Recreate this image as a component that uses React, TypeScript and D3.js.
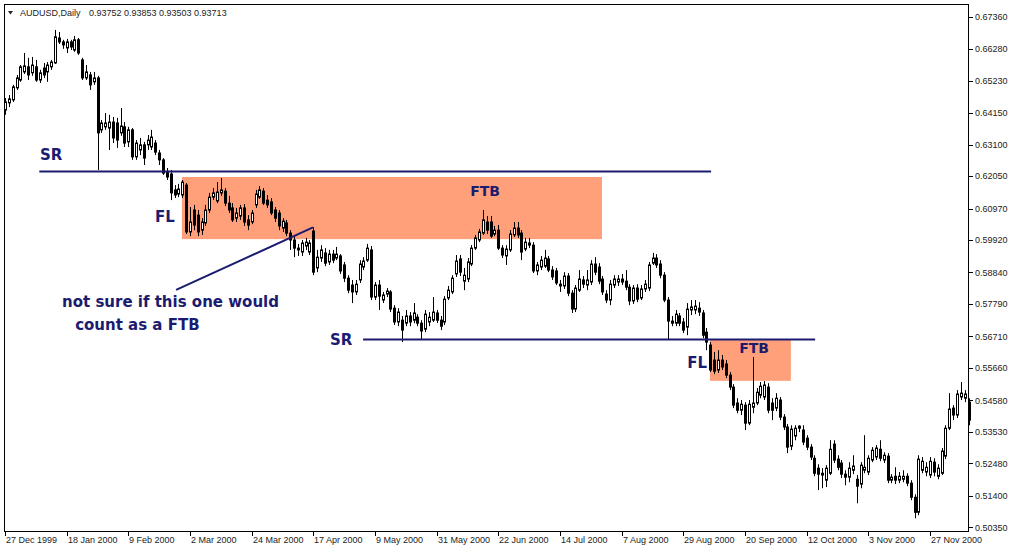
import React from "react";
import * as d3 from "d3";

const symbolTitle = "AUDUSD,Daily";
const quoteLine = "0.93752 0.93853 0.93503 0.93713";

// Daily bars, 27 Dec 1999 .. early Dec 2000 (weekdays)
const opens = [
  0.6425, 0.6449, 0.6459, 0.6499, 0.6525, 0.6552, 0.6569, 0.6549, 0.6569, 0.6525,
  0.6565, 0.6552, 0.6569, 0.6582, 0.6665, 0.6652, 0.6632, 0.6652, 0.6625, 0.6659,
  0.6592, 0.6532, 0.6542, 0.6519, 0.6532, 0.6359, 0.6369, 0.6365, 0.6385, 0.6382,
  0.6349, 0.6369, 0.6319, 0.6359, 0.6269, 0.6292, 0.6309, 0.6309, 0.6302, 0.6315,
  0.6282, 0.6259, 0.6219, 0.6212, 0.6159, 0.6145, 0.6142, 0.6175, 0.6019, 0.6092,
  0.6075, 0.6025, 0.6049, 0.6092, 0.6135, 0.6122, 0.6149, 0.6155, 0.6115, 0.6099,
  0.6065, 0.6072, 0.6099, 0.6059, 0.6052, 0.6109, 0.6135, 0.6155, 0.6125, 0.6119,
  0.6092, 0.6082, 0.6032, 0.6049, 0.6015, 0.5992, 0.5965, 0.5952, 0.5972, 0.5952,
  0.6022, 0.5899, 0.5932, 0.5949, 0.5919, 0.5945, 0.5932, 0.5939, 0.5909, 0.5865,
  0.5842, 0.5819, 0.5859, 0.5902, 0.5925, 0.5959, 0.5802, 0.5842, 0.5792, 0.5812,
  0.5819, 0.5765, 0.5719, 0.5725, 0.5715, 0.5739, 0.5725, 0.5735, 0.5715, 0.5695,
  0.5719, 0.5725, 0.5749, 0.5725, 0.5719, 0.5799, 0.5819, 0.5879, 0.5929, 0.5855,
  0.5862, 0.5912, 0.5965, 0.5992, 0.6015, 0.6052, 0.6052, 0.6012, 0.6025, 0.5965,
  0.5939, 0.5959, 0.6009, 0.6032, 0.6015, 0.5962, 0.5982, 0.5975, 0.5889, 0.5902,
  0.5905, 0.5929, 0.5892, 0.5889, 0.5845, 0.5839, 0.5872, 0.5815, 0.5762, 0.5825,
  0.5859, 0.5842, 0.5852, 0.5912, 0.5902, 0.5862, 0.5812, 0.5792, 0.5842, 0.5852,
  0.5862, 0.5855, 0.5835, 0.5789, 0.5832, 0.5799, 0.5829, 0.5832, 0.5915, 0.5932,
  0.5912, 0.5875, 0.5792, 0.5722, 0.5715, 0.5739, 0.5719, 0.5702, 0.5759, 0.5759,
  0.5765, 0.5749, 0.5685, 0.5642, 0.5592, 0.5559, 0.5592, 0.5579, 0.5542, 0.5502,
  0.5449, 0.5425, 0.5442, 0.5382, 0.5435, 0.5449, 0.5475, 0.5469, 0.5502, 0.5449,
  0.5432, 0.5459, 0.5402, 0.5369, 0.5305, 0.5339, 0.5365, 0.5359, 0.5332, 0.5302,
  0.5265, 0.5232, 0.5215, 0.5192, 0.5215, 0.5312, 0.5262, 0.5249, 0.5212, 0.5202,
  0.5225, 0.5195, 0.5179, 0.5225, 0.5219, 0.5259, 0.5269, 0.5295, 0.5259, 0.5272,
  0.5192, 0.5205, 0.5192, 0.5195, 0.5205, 0.5182, 0.5135, 0.5085, 0.5225, 0.5219,
  0.5209, 0.5252, 0.5205, 0.5215, 0.5272, 0.5365, 0.5432, 0.5409, 0.5469, 0.5465,
  0.5452,
];

const highs = [
  0.6465, 0.6475, 0.6509, 0.6542, 0.6575, 0.6615, 0.6599, 0.6602, 0.6592, 0.6559,
  0.6582, 0.6585, 0.6592, 0.6692, 0.6685, 0.6659, 0.6662, 0.6659, 0.6672, 0.6665,
  0.6599, 0.6575, 0.6552, 0.6552, 0.6539, 0.6392, 0.6415, 0.6409, 0.6402, 0.6399,
  0.6432, 0.6385, 0.6369, 0.6365, 0.6325, 0.6332, 0.6319, 0.6342, 0.6359, 0.6325,
  0.6292, 0.6265, 0.6232, 0.6225, 0.6175, 0.6179, 0.6192, 0.6182, 0.6102, 0.6109,
  0.6092, 0.6065, 0.6109, 0.6149, 0.6165, 0.6185, 0.6199, 0.6165, 0.6139, 0.6115,
  0.6099, 0.6109, 0.6112, 0.6075, 0.6092, 0.6159, 0.6172, 0.6165, 0.6142, 0.6132,
  0.6102, 0.6092, 0.6065, 0.6059, 0.6025, 0.6005, 0.5979, 0.5992, 0.5999, 0.5992,
  0.6035, 0.5959, 0.5975, 0.5965, 0.5959, 0.5959, 0.5969, 0.5945, 0.5919, 0.5875,
  0.5859, 0.5859, 0.5925, 0.5935, 0.5979, 0.5972, 0.5852, 0.5859, 0.5819, 0.5832,
  0.5825, 0.5775, 0.5765, 0.5739, 0.5759, 0.5752, 0.5782, 0.5745, 0.5725, 0.5759,
  0.5752, 0.5802, 0.5759, 0.5739, 0.5805, 0.5839, 0.5875, 0.5942, 0.5942, 0.5899,
  0.5932, 0.5975, 0.6009, 0.6029, 0.6092, 0.6072, 0.6072, 0.6039, 0.6042, 0.5975,
  0.5975, 0.6025, 0.6052, 0.6052, 0.6025, 0.5999, 0.5999, 0.5985, 0.5919, 0.5939,
  0.5959, 0.5939, 0.5905, 0.5899, 0.5859, 0.5885, 0.5882, 0.5825, 0.5842, 0.5892,
  0.5872, 0.5892, 0.5925, 0.5935, 0.5915, 0.5872, 0.5825, 0.5859, 0.5875, 0.5875,
  0.5879, 0.5892, 0.5845, 0.5842, 0.5845, 0.5842, 0.5859, 0.5919, 0.5949, 0.5945,
  0.5925, 0.5885, 0.5802, 0.5739, 0.5759, 0.5749, 0.5732, 0.5782, 0.5792, 0.5792,
  0.5785, 0.5759, 0.5699, 0.5652, 0.5619, 0.5625, 0.5609, 0.5592, 0.5552, 0.5512,
  0.5465, 0.5459, 0.5452, 0.5459, 0.5602, 0.5499, 0.5519, 0.5522, 0.5515, 0.5465,
  0.5482, 0.5469, 0.5412, 0.5379, 0.5375, 0.5375, 0.5375, 0.5375, 0.5342, 0.5312,
  0.5275, 0.5245, 0.5232, 0.5242, 0.5325, 0.5325, 0.5275, 0.5259, 0.5225, 0.5252,
  0.5275, 0.5209, 0.5252, 0.5342, 0.5275, 0.5302, 0.5309, 0.5325, 0.5285, 0.5282,
  0.5212, 0.5235, 0.5219, 0.5225, 0.5215, 0.5192, 0.5145, 0.5275, 0.5269, 0.5252,
  0.5269, 0.5265, 0.5245, 0.5299, 0.5375, 0.5482, 0.5442, 0.5492, 0.5519, 0.5492,
  0.5465,
];

const lows = [
  0.6409, 0.6435, 0.6452, 0.6492, 0.6519, 0.6545, 0.6525, 0.6539, 0.6519, 0.6515,
  0.6532, 0.6519, 0.6559, 0.6579, 0.6645, 0.6629, 0.6615, 0.6625, 0.6619, 0.6609,
  0.6525, 0.6525, 0.6492, 0.6509, 0.6225, 0.6349, 0.6359, 0.6292, 0.6315, 0.6299,
  0.6339, 0.6302, 0.6302, 0.6259, 0.6259, 0.6275, 0.6242, 0.6292, 0.6292, 0.6275,
  0.6242, 0.6209, 0.6192, 0.6125, 0.6132, 0.6135, 0.6132, 0.6012, 0.6005, 0.6025,
  0.6005, 0.6009, 0.6039, 0.6082, 0.6125, 0.6115, 0.6139, 0.6105, 0.6082, 0.6052,
  0.6052, 0.6059, 0.6039, 0.6025, 0.6045, 0.6099, 0.6129, 0.6109, 0.6099, 0.6075,
  0.6052, 0.6025, 0.6019, 0.6005, 0.5959, 0.5935, 0.5939, 0.5939, 0.5959, 0.5942,
  0.5875, 0.5885, 0.5919, 0.5905, 0.5909, 0.5915, 0.5925, 0.5879, 0.5852, 0.5815,
  0.5782, 0.5809, 0.5849, 0.5892, 0.5919, 0.5792, 0.5792, 0.5759, 0.5782, 0.5802,
  0.5752, 0.5709, 0.5705, 0.5652, 0.5705, 0.5705, 0.5715, 0.5705, 0.5659, 0.5685,
  0.5705, 0.5719, 0.5715, 0.5692, 0.5709, 0.5792, 0.5812, 0.5869, 0.5872, 0.5825,
  0.5852, 0.5905, 0.5959, 0.5985, 0.6009, 0.6012, 0.5999, 0.6005, 0.5959, 0.5932,
  0.5909, 0.5952, 0.6002, 0.5999, 0.5925, 0.5955, 0.5965, 0.5882, 0.5875, 0.5892,
  0.5899, 0.5885, 0.5859, 0.5842, 0.5819, 0.5829, 0.5805, 0.5749, 0.5752, 0.5819,
  0.5832, 0.5825, 0.5842, 0.5875, 0.5845, 0.5809, 0.5782, 0.5775, 0.5832, 0.5839,
  0.5842, 0.5825, 0.5775, 0.5779, 0.5785, 0.5792, 0.5819, 0.5822, 0.5909, 0.5899,
  0.5865, 0.5785, 0.5662, 0.5705, 0.5705, 0.5705, 0.5682, 0.5675, 0.5742, 0.5745,
  0.5739, 0.5665, 0.5625, 0.5552, 0.5545, 0.5549, 0.5559, 0.5532, 0.5492, 0.5432,
  0.5415, 0.5409, 0.5359, 0.5375, 0.5415, 0.5442, 0.5465, 0.5459, 0.5415, 0.5392,
  0.5422, 0.5392, 0.5359, 0.5282, 0.5292, 0.5325, 0.5352, 0.5309, 0.5292, 0.5259,
  0.5205, 0.5159, 0.5165, 0.5169, 0.5209, 0.5249, 0.5225, 0.5199, 0.5175, 0.5185,
  0.5212, 0.5115, 0.5165, 0.5215, 0.5209, 0.5252, 0.5259, 0.5255, 0.5249, 0.5182,
  0.5182, 0.5179, 0.5182, 0.5185, 0.5172, 0.5125, 0.5065, 0.5075, 0.5215, 0.5205,
  0.5199, 0.5205, 0.5195, 0.5209, 0.5262, 0.5359, 0.5392, 0.5399, 0.5459, 0.5452,
  0.5375,
];

const closes = [
  0.6452, 0.6462, 0.6502, 0.6532, 0.6569, 0.6572, 0.6542, 0.6575, 0.6525, 0.6549,
  0.6542, 0.6575, 0.6585, 0.6669, 0.6652, 0.6642, 0.6652, 0.6635, 0.6659, 0.6615,
  0.6532, 0.6552, 0.6509, 0.6532, 0.6349, 0.6382, 0.6382, 0.6385, 0.6332, 0.6325,
  0.6372, 0.6315, 0.6359, 0.6269, 0.6315, 0.6309, 0.6265, 0.6325, 0.6335, 0.6285,
  0.6259, 0.6215, 0.6202, 0.6149, 0.6142, 0.6162, 0.6185, 0.6019, 0.6052, 0.6042,
  0.6019, 0.6052, 0.6092, 0.6135, 0.6149, 0.6152, 0.6159, 0.6115, 0.6092, 0.6059,
  0.6082, 0.6099, 0.6052, 0.6042, 0.6082, 0.6145, 0.6159, 0.6115, 0.6109, 0.6082,
  0.6065, 0.6039, 0.6055, 0.6015, 0.5992, 0.5965, 0.5959, 0.5982, 0.5985, 0.5982,
  0.5885, 0.5935, 0.5959, 0.5915, 0.5945, 0.5925, 0.5945, 0.5889, 0.5865, 0.5825,
  0.5819, 0.5845, 0.5912, 0.5922, 0.5965, 0.5802, 0.5842, 0.5805, 0.5809, 0.5822,
  0.5762, 0.5719, 0.5752, 0.5692, 0.5739, 0.5719, 0.5749, 0.5715, 0.5689, 0.5745,
  0.5735, 0.5752, 0.5725, 0.5705, 0.5795, 0.5825, 0.5865, 0.5922, 0.5885, 0.5875,
  0.5919, 0.5965, 0.5999, 0.6019, 0.6059, 0.6025, 0.6005, 0.6025, 0.5965, 0.5942,
  0.5962, 0.6012, 0.6032, 0.6009, 0.5952, 0.5985, 0.5975, 0.5889, 0.5909, 0.5925,
  0.5932, 0.5892, 0.5869, 0.5849, 0.5839, 0.5872, 0.5815, 0.5762, 0.5832, 0.5862,
  0.5845, 0.5859, 0.5912, 0.5885, 0.5855, 0.5819, 0.5792, 0.5845, 0.5862, 0.5862,
  0.5852, 0.5835, 0.5789, 0.5832, 0.5795, 0.5829, 0.5845, 0.5909, 0.5932, 0.5909,
  0.5875, 0.5792, 0.5722, 0.5715, 0.5745, 0.5715, 0.5692, 0.5762, 0.5769, 0.5772,
  0.5752, 0.5675, 0.5652, 0.5559, 0.5555, 0.5592, 0.5569, 0.5542, 0.5502, 0.5442,
  0.5425, 0.5445, 0.5382, 0.5445, 0.5449, 0.5485, 0.5505, 0.5509, 0.5425, 0.5425,
  0.5465, 0.5402, 0.5369, 0.5302, 0.5362, 0.5365, 0.5372, 0.5319, 0.5302, 0.5269,
  0.5215, 0.5212, 0.5209, 0.5232, 0.5295, 0.5259, 0.5235, 0.5212, 0.5202, 0.5232,
  0.5239, 0.5172, 0.5242, 0.5235, 0.5265, 0.5292, 0.5299, 0.5265, 0.5275, 0.5192,
  0.5202, 0.5192, 0.5205, 0.5205, 0.5182, 0.5135, 0.5085, 0.5262, 0.5255, 0.5235,
  0.5255, 0.5219, 0.5232, 0.5289, 0.5365, 0.5429, 0.5409, 0.5479, 0.5482, 0.5479,
  0.5392,
];

// x-axis labels: one every 16 bars, starting at bar 0
const xTickLabels = [
  "27 Dec 1999", "18 Jan 2000", "9 Feb 2000", "2 Mar 2000", "24 Mar 2000", "17 Apr 2000",
  "9 May 2000", "31 May 2000", "22 Jun 2000", "14 Jul 2000", "7 Aug 2000", "29 Aug 2000",
  "20 Sep 2000", "12 Oct 2000", "3 Nov 2000", "27 Nov 2000",
];
const xTickStep = 16;

const yTickValues = [
  0.6736, 0.6628, 0.6523, 0.6415, 0.631, 0.6205, 0.6097, 0.5992, 0.5884,
  0.5779, 0.5671, 0.5566, 0.5458, 0.5353, 0.5248, 0.514, 0.5035,
];

// Drawn objects (bar index / price coordinates)
const srLines = [
  { from: 8.9, to: 183.2, price: 0.622 },
  { from: 92.9, to: 210.2, price: 0.5661 },
];
const zones = [
  { from: 45.9, to: 154.9, top: 0.6202, bottom: 0.5995 },
  { from: 182.9, to: 203.9, top: 0.5661, bottom: 0.5523 },
];
const trendLine = { from: [44.4, 0.5826], to: [79.9, 0.6034] };
const labels = [
  { text: "SR", bar: 9.1, price: 0.6259, size: 15 },
  { text: "FL", bar: 38.9, price: 0.6052, size: 15 },
  { text: "FTB", bar: 120.7, price: 0.6139, size: 14 },
  { text: "not sure if this one would", bar: 14.8, price: 0.5769, size: 15 },
  { text: "count as a FTB", bar: 18.2, price: 0.5692, size: 15 },
  { text: "SR", bar: 84.3, price: 0.5642, size: 15 },
  { text: "FL", bar: 177, price: 0.5566, size: 15 },
  { text: "FTB", bar: 190.5, price: 0.5616, size: 14 },
];

const NAVY = "#1b1b70";
const ZONE = "#FFA07A";
const AXIS_FONT = "'Liberation Sans', Arial, sans-serif";
const NOTE_FONT = "'DejaVu Sans', Verdana, sans-serif";

export default function App() {
  const W = 1013;
  const H = 552;
  const frame = { left: 4, top: 4, right: 968, bottom: 531 };

  const x = d3.scaleLinear().domain([0, 240]).range([5, 930]);
  const y = d3.scaleLinear().domain([0.5035, 0.6736]).range([527.3, 16.7]);

  const candles = d3.range(opens.length).map((i) => {
    const o = opens[i];
    const c = closes[i];
    return {
      i,
      o,
      c,
      h: Math.max(highs[i], o, c),
      l: Math.min(lows[i], o, c),
    };
  });

  const xTicks = xTickLabels.map((label, k) => ({ label, idx: k * xTickStep }));
  const trendPath = d3.line()([
    [x(trendLine.from[0]), y(trendLine.from[1])],
    [x(trendLine.to[0]), y(trendLine.to[1])],
  ]);

  return (
    <svg
      width={W}
      height={H}
      viewBox={`0 0 ${W} ${H}`}
      style={{ position: "absolute", left: 0, top: 0, background: "#fff", display: "block" }}
    >
      <rect x={0} y={0} width={W} height={H} fill="#fff" />

      {/* zones behind candles */}
      {zones.map((z, k) => (
        <rect
          key={"z" + k}
          x={x(z.from)}
          y={y(z.top)}
          width={x(z.to) - x(z.from)}
          height={y(z.bottom) - y(z.top)}
          fill={ZONE}
        />
      ))}

      {/* candles */}
      <g>
        {candles.map((d) => {
          const cx = Math.round(x(d.i));
          const up = d.c >= d.o;
          const yTop = y(Math.max(d.o, d.c));
          const yBot = y(Math.min(d.o, d.c));
          const bh = Math.max(1, yBot - yTop);
          return (
            <g key={d.i}>
              <line
                x1={cx + 0.5}
                x2={cx + 0.5}
                y1={y(d.h)}
                y2={y(d.l)}
                stroke="#000"
                strokeWidth={1}
              />
              <rect
                x={cx - 0.5}
                y={yTop}
                width={2}
                height={bh}
                fill={up ? "#fff" : "#000"}
                stroke="#000"
                strokeWidth={1}
              />
            </g>
          );
        })}
      </g>

      {/* S/R lines */}
      {srLines.map((s, k) => (
        <line
          key={"sr" + k}
          x1={x(s.from)}
          x2={x(s.to)}
          y1={y(s.price)}
          y2={y(s.price)}
          stroke={NAVY}
          strokeWidth={2}
        />
      ))}
      <path d={trendPath || ""} stroke={NAVY} strokeWidth={2} fill="none" />

      {labels.map((t, k) => (
        <text
          key={"t" + k}
          x={x(t.bar)}
          y={y(t.price)}
          fill={NAVY}
          fontFamily={NOTE_FONT}
          fontWeight="bold"
          fontSize={t.size}
        >
          {t.text}
        </text>
      ))}

      {/* frame */}
      <g stroke="#000" strokeWidth={1} shapeRendering="crispEdges">
        <line x1={frame.left} x2={frame.right} y1={frame.top + 0.5} y2={frame.top + 0.5} />
        <line x1={frame.left + 0.5} x2={frame.left + 0.5} y1={frame.top} y2={frame.bottom} />
        <line x1={frame.right + 0.5} x2={frame.right + 0.5} y1={frame.top} y2={frame.bottom + 1} />
        <line x1={frame.left} x2={frame.right + 1} y1={frame.bottom + 0.5} y2={frame.bottom + 0.5} />
      </g>

      {/* y axis */}
      {yTickValues.map((v) => (
        <g key={"y" + v}>
          <line
            x1={frame.right + 1}
            x2={frame.right + 5}
            y1={Math.round(y(v)) + 0.5}
            y2={Math.round(y(v)) + 0.5}
            stroke="#000"
            shapeRendering="crispEdges"
          />
          <text
            x={975}
            y={y(v) + 3.3}
            fontFamily={AXIS_FONT}
            fontSize={9}
            fill="#222"
          >
            {v.toFixed(5)}
          </text>
        </g>
      ))}

      {/* x axis */}
      {xTicks.map((t) => {
        const tx = Math.round(x(t.idx));
        return (
          <g key={"x" + t.idx}>
            <line
              x1={tx + 0.5}
              x2={tx + 0.5}
              y1={frame.bottom + 1}
              y2={frame.bottom + 5}
              stroke="#000"
              shapeRendering="crispEdges"
            />
            <text x={tx + 1} y={543} fontFamily={AXIS_FONT} fontSize={9} fill="#222">
              {t.label}
            </text>
          </g>
        );
      })}

      {/* header */}
      <path d="M8,11 L13,11 L10.5,14.5 Z" fill="#222" />
      <text x={20} y={16} fontFamily={AXIS_FONT} fontSize={9} fill="#222">
        {symbolTitle}
      </text>
      <text x={89} y={16} fontFamily={AXIS_FONT} fontSize={9} fill="#222">
        {quoteLine}
      </text>
    </svg>
  );
}
